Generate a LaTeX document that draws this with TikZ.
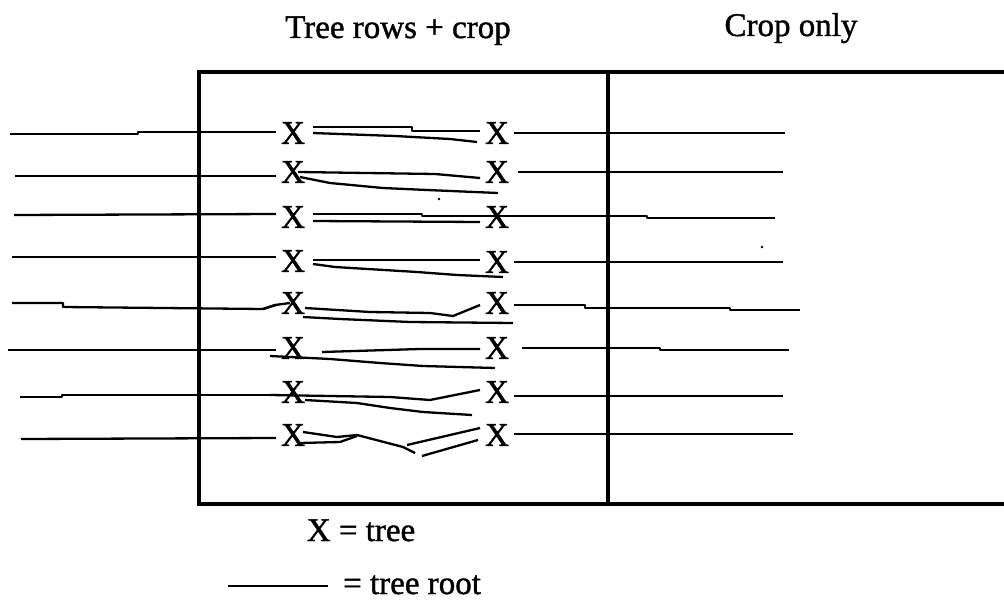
\documentclass[tikz,border=0pt]{standalone}
\usepackage{fontspec}
\setmainfont{Liberation Serif}
\newfontfamily\scanfont{Liberation Serif}[FakeBold=1.2]
\begin{document}
\begin{tikzpicture}[x=1pt,y=-1pt,
  frame/.style={line width=4.5pt, line join=miter},
  root/.style={line width=2.3pt, line join=round},
  lbl/.style={font=\scanfont\fontsize{33}{40}\selectfont, inner sep=0pt},
  xmark/.style={font=\scanfont\fontsize{33}{40}\selectfont, inner sep=0pt, outer sep=5pt}]
\useasboundingbox (0,0) rectangle (1004,607);
\fill[white] (0,0) rectangle (1004,607);

% titles
\node[lbl, anchor=base] (t1) at (398,38) {Tree rows + crop};
\node[lbl, anchor=base] (t2) at (791,36) {Crop only};

% frame
\draw[frame] (1006,72) -- (199,72) -- (199,504) -- (1006,504);
\draw[frame] (608,72) -- (608,504);

% trees
\node[xmark] (L1) at (293,133) {X};
\node[xmark] (L2) at (293,172) {X};
\node[xmark] (L3) at (293,217) {X};
\node[xmark] (L4) at (293,261) {X};
\node[xmark] (L5) at (293,303) {X};
\node[xmark] (L6) at (293,348) {X};
\node[xmark] (L7) at (293,392) {X};
\node[xmark] (L8) at (293,435) {X};
\node[xmark] (R1) at (497,133) {X};
\node[xmark] (R2) at (497,172) {X};
\node[xmark] (R3) at (497,217) {X};
\node[xmark] (R4) at (497,262) {X};
\node[xmark] (R5) at (497,303) {X};
\node[xmark] (R6) at (497,348) {X};
\node[xmark] (R7) at (497,392) {X};
\node[xmark] (R8) at (497,435) {X};

% left roots
\coordinate (a1) at (10,134);
\coordinate (a2) at (15,176);
\coordinate (a3) at (14,215);
\coordinate (a4) at (12,257);
\coordinate (a5) at (12,303);
\coordinate (a6) at (8,350);
\coordinate (a7) at (20,397);
\coordinate (a8) at (21,439);
\draw[root] (a1) -- (138,134) -- (138,132) -- (L1.west |- 0,132);
\draw[root] (a2) -- (L2.west |- 0,176);
\draw[root] (a3) -- (L3.west |- 0,214);
\draw[root] (a4) -- (L4.west |- 0,257);
\draw[root] (a5) -- (63,303) -- (63,307) -- (263,309) -- (L5.west |- 0,305);
\draw[root] (a6) -- (L6.west |- 0,350);
\draw[root] (a7) -- (62,397) -- (62,395) -- (L7.west |- 0,395);
\draw[root] (a8) -- (L8.west |- 0,438);

% right roots
\coordinate (b1) at (785,133);
\coordinate (b2) at (783,172);
\coordinate (b3) at (775,218);
\coordinate (b4) at (783,262);
\coordinate (b5) at (800,310);
\coordinate (b6) at (789,350);
\coordinate (b7) at (783,396);
\coordinate (b8) at (793,434);
\draw[root] (R1.east |- 0,133) -- (b1);
\draw[root] (R2.east |- 0,172) ++(4,0) -- (b2);
\draw[root] (R3.west |- 0,216) -- (647,216) -- (647,218) -- (b3);
\draw[root] (R4.east |- 0,262) -- (b4);
\draw[root] (R5.east |- 0,305) -- (585,305) -- (585,308) -- (730,308) -- (730,310) -- (b5);
\draw[root] (R6.east |- 0,348) ++(8,0) -- (660,348) -- (660,350) -- (b6);
\draw[root] (R7.east |- 0,396) -- (b7);
\draw[root] (R8.east |- 0,434) -- (b8);

% roots between the tree rows
\draw[root] (313,127) -- (412,127) -- (412,131) -- (R1.west |- 0,131);
\draw[root] (313,133) -- (340,134) -- (395,136) -- (450,139) -- (477,142);

\draw[root] (298,172) -- (435,174) -- (R2.west |- 0,178);
\draw[root] (300,177) -- (330,183) -- (383,188) -- (427,190) -- (498,193);

\draw[root] (313,214) -- (422,214) -- (422,216) -- (R3.west |- 0,216);
\draw[root] (313,221) -- (480,222);

\draw[root] (313,260) -- (R4.west |- 0,260);
\draw[root] (313,264) -- (335,267) -- (417,272) -- (457,275) -- (503,277);

\draw[root] (263,309) -- (275,305) -- (290,303);
\draw[root] (305,308) -- (370,312) -- (430,313) -- (453,316) -- (R5.west |- 0,305);
\draw[root] (303,317) -- (340,319) -- (410,322) -- (513,323);

\draw[root] (322,352) -- (420,349) -- (R6.west |- 0,349);
\draw[root] (270,356) -- (330,359) -- (380,363) -- (423,366) -- (495,368);

\draw[root] (270,395) -- (390,397) -- (430,400) -- (R7.west |- 0,390);
\draw[root] (305,400) -- (357,403) -- (390,408) -- (423,412) -- (472,415);

\draw[root] (303,432) -- (337,437) -- (357,435) -- (403,447) -- (415,453);
\draw[root] (300,443) -- (340,442) -- (357,436);
\draw[root] (407,445) -- (R8.west |- 0,428);
\draw[root] (422,456) -- (478,440);

% specks
\fill (439,199) circle (1.3);
\fill (762,247) circle (1.3);

% legend
\node[lbl, anchor=base] (leg1) at (361,541) {X = tree};
\node[lbl, anchor=base west] (leg2) at (343,594) {= tree root};
\coordinate (lg) at (228,586);
\draw[root] (lg) -- (328,586);
\end{tikzpicture}
\end{document}
